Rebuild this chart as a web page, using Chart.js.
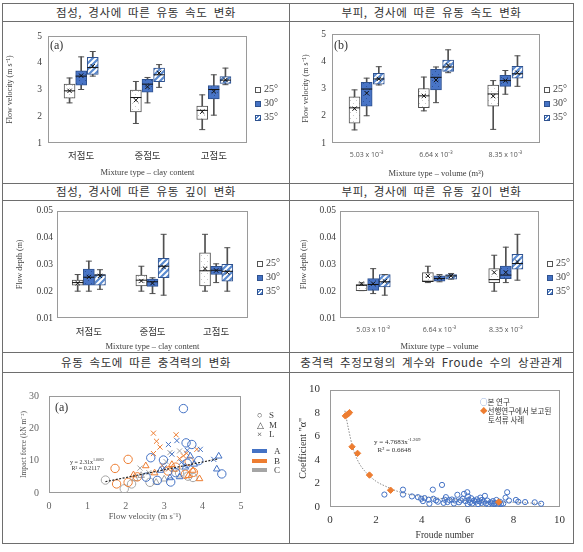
<!DOCTYPE html>
<html>
<head>
<meta charset="utf-8">
<script src="https://cdn.jsdelivr.net/npm/chart.js@4.4.1/dist/chart.umd.min.js"></script>
<style>
body{margin:0;width:583px;height:552px;background:#fff;position:relative;overflow:hidden}
.h,.v{position:absolute;background:#6e6e6e}
.h{height:1px;left:2px;width:572px}
.v{width:1px;top:3px;height:541px}
.t{position:absolute;text-align:center;font-family:'Noto Sans CJK KR',sans-serif;font-size:11.5px;color:#333;letter-spacing:0.6px;word-spacing:3px;white-space:nowrap}
canvas{position:absolute}
.lg{position:absolute;font-family:'Liberation Serif',serif;font-size:10px;color:#404040}
.it{height:14px;line-height:14px;white-space:nowrap}
.sw{display:inline-block;width:6px;height:6px;margin-right:3px;vertical-align:-1px;box-sizing:border-box}
.s25{background:#fff;border:1px solid #555}
.s30{background:#4472c4;border:1px solid #2f528f}
.s35{background:repeating-linear-gradient(-45deg,#5b8bd0 0 1.5px,#fff 1.5px 3px);border:1px solid #2f528f}
.nt{position:absolute;font-family:'Liberation Serif',serif;color:#333;white-space:nowrap}
</style>
</head>
<body>
<div class="h" style="top:3px"></div>
<div class="h" style="top:21px"></div>
<div class="h" style="top:183px"></div>
<div class="h" style="top:200px"></div>
<div class="h" style="top:352px"></div>
<div class="h" style="top:372px"></div>
<div class="h" style="top:543px"></div>
<div class="v" style="left:2px"></div>
<div class="v" style="left:289px"></div>
<div class="v" style="left:573px"></div>

<div class="t" style="left:3px;width:286px;top:3px;height:18px;line-height:18px">점성, 경사에 따른 유동 속도 변화</div>
<div class="t" style="left:290px;width:283px;top:3px;height:18px;line-height:18px">부피, 경사에 따른 유동 속도 변화</div>
<div class="t" style="left:3px;width:286px;top:183px;height:17px;line-height:17px">점성, 경사에 따른 유동 깊이 변화</div>
<div class="t" style="left:290px;width:283px;top:183px;height:17px;line-height:17px">부피, 경사에 따른 유동 깊이 변화</div>
<div class="t" style="left:3px;width:286px;top:352px;height:20px;line-height:20px">유동 속도에 따른 충격력의 변화</div>
<div class="t" style="left:290px;width:283px;top:352px;height:20px;line-height:20px">충격력 추정모형의 계수와 Froude 수의 상관관계</div>

<canvas id="c1" width="285" height="160" style="left:3px;top:22px"></canvas>
<canvas id="c2" width="282" height="160" style="left:290px;top:22px"></canvas>
<canvas id="c3" width="285" height="151" style="left:3px;top:201px"></canvas>
<canvas id="c4" width="282" height="151" style="left:290px;top:201px"></canvas>
<canvas id="c5" width="285" height="169" style="left:3px;top:373px"></canvas>
<canvas id="c6" width="282" height="169" style="left:290px;top:373px"></canvas>

<div class="lg" style="left:255px;top:82px"><div class="it"><span class="sw s25"></span>25°</div><div class="it"><span class="sw s30"></span>30°</div><div class="it"><span class="sw s35"></span>35°</div></div>
<div class="lg" style="left:544px;top:82px"><div class="it"><span class="sw s25"></span>25°</div><div class="it"><span class="sw s30"></span>30°</div><div class="it"><span class="sw s35"></span>35°</div></div>
<div class="lg" style="left:257px;top:256px"><div class="it"><span class="sw s25"></span>25°</div><div class="it"><span class="sw s30"></span>30°</div><div class="it"><span class="sw s35"></span>35°</div></div>
<div class="lg" style="left:547px;top:256px"><div class="it"><span class="sw s25"></span>25°</div><div class="it"><span class="sw s30"></span>30°</div><div class="it"><span class="sw s35"></span>35°</div></div>

<div class="nt" style="left:50px;top:38px;font-size:12px">(a)</div>
<div class="nt" style="left:334px;top:38px;font-size:12px">(b)</div>
<div class="nt" style="left:55px;top:400px;font-size:12px">(a)</div>

<div class="lg" style="left:257px;top:411px;font-size:9px;line-height:9.5px">
<div><span style="display:inline-block;width:12px">○</span>S</div>
<div><span style="display:inline-block;width:12px">△</span>M</div>
<div><span style="display:inline-block;width:12px">×</span>L</div>
</div>
<div class="lg" style="left:252px;top:447px;font-size:9px;line-height:9.5px">
<div><span style="display:inline-block;width:15px;height:4px;background:#4472c4;vertical-align:1px;margin-right:7px"></span>A</div>
<div><span style="display:inline-block;width:15px;height:4px;background:#ed7d31;vertical-align:1px;margin-right:7px"></span>B</div>
<div><span style="display:inline-block;width:15px;height:4px;background:#a5a5a5;vertical-align:1px;margin-right:7px"></span>C</div>
</div>
<div class="nt" style="left:70px;top:457px;font-size:6px;line-height:6px">y = 2.31x<sup style="font-size:4px">1.0062</sup><br>&nbsp;R² = 0.2117</div>

<div class="lg" style="left:480px;top:397px;font-family:'Noto Sans CJK KR',sans-serif;font-size:7.5px;line-height:9px;color:#333">
<div><span style="color:#4472c4">○</span>본 연구</div>
<div><span style="color:#ed7d31">◆</span>선행연구에서 보고된</div>
<div style="padding-left:8px">토석류 사례</div>
</div>
<div class="nt" style="left:374px;top:436px;font-size:7px;line-height:8px">y = 4.7683x<sup style="font-size:5px">-1.269</sup><br>&nbsp;&nbsp;R² = 0.6648</div>

<script>
const serif = "'Liberation Serif','Times New Roman',serif";
const kr = "'Noto Sans CJK KR',sans-serif";

const clayLabels = ['저점도', '중점도', '고점도'];
const volLabels = ['5.03 x 10⁻³', '6.64 x 10⁻³', '8.35 x 10⁻³'];
const slopeLabels = ['25°', '30°', '35°'];

// box values per group: [min, q1, median, q3, max, mean]
const velClay25 = [[2.5, 2.68, 2.95, 3.2, 3.43, 2.95], [1.73, 2.16, 2.7, 2.98, 3.3, 2.6], [1.5, 1.88, 2.22, 2.38, 2.8, 2.17]];
const velClay30 = [[3.0, 3.16, 3.5, 3.7, 4.22, 3.52], [2.5, 2.9, 3.2, 3.38, 3.45, 3.1], [2.04, 2.65, 3.0, 3.15, 3.55, 2.93]];
const velClay35 = [[3.5, 3.56, 3.82, 4.2, 4.42, 3.87], [3.08, 3.29, 3.55, 3.8, 3.93, 3.62], [3.18, 3.23, 3.35, 3.48, 3.8, 3.36]];

const velVol25 = [[1.48, 1.73, 2.29, 2.69, 2.95, 2.26], [2.18, 2.3, 2.73, 3.0, 3.42, 2.73], [1.5, 2.35, 2.8, 3.13, 3.29, 2.72]];
const velVol30 = [[2.0, 2.35, 2.98, 3.23, 3.38, 2.83], [2.48, 2.95, 3.41, 3.7, 3.79, 3.31], [2.79, 3.08, 3.29, 3.48, 3.66, 3.29]];
const velVol35 = [[3.13, 3.16, 3.35, 3.56, 3.8, 3.35], [3.58, 3.63, 3.79, 4.04, 4.42, 3.85], [3.08, 3.38, 3.54, 3.81, 4.2, 3.58]];

const depClay25 = [[0.02, 0.0222, 0.0232, 0.0241, 0.0262, 0.023], [0.02, 0.022, 0.0241, 0.026, 0.0293, 0.0238], [0.02, 0.022, 0.0276, 0.0343, 0.0412, 0.0284]];
const depClay30 = [[0.02, 0.0222, 0.0252, 0.0282, 0.0312, 0.0253], [0.0191, 0.0218, 0.0235, 0.0245, 0.025, 0.023], [0.0232, 0.0262, 0.0278, 0.0293, 0.0302, 0.0277]];
const depClay35 = [[0.0207, 0.0222, 0.026, 0.0262, 0.028, 0.0257], [0.0185, 0.025, 0.0293, 0.0322, 0.0412, 0.029], [0.02, 0.0237, 0.0274, 0.03, 0.0362, 0.027]];

const depVol25 = [[0.0202, 0.0202, 0.0222, 0.0225, 0.0231, 0.0228], [0.0232, 0.0235, 0.0237, 0.0269, 0.0293, 0.0257], [0.02, 0.0232, 0.0243, 0.0284, 0.0334, 0.027]];
const depVol30 = [[0.0191, 0.0203, 0.0225, 0.0247, 0.0284, 0.0228], [0.0235, 0.0237, 0.0247, 0.0257, 0.0262, 0.025], [0.0232, 0.0247, 0.026, 0.0294, 0.0364, 0.027]];
const depVol35 = [[0.0185, 0.0216, 0.0235, 0.0262, 0.0262, 0.0237], [0.0245, 0.0245, 0.0257, 0.0262, 0.0266, 0.0257], [0.0241, 0.0282, 0.0303, 0.0337, 0.0412, 0.0309]];

// impact force vs flow velocity, [velocity, force]
const impAS = [[3.5, 26.1], [3.57, 15.5], [2.98, 10.2], [2.65, 10.9], [2.53, 4.9], [2.82, 3.9], [3.17, 3.4], [4.5, 5.9], [3.72, 15.0], [3.6, 9.2], [3.3, 6.3], [3.9, 10.0]];
const impAM = [[4.42, 11.4], [4.37, 7.4], [3.68, 11.4], [3.78, 8.9], [3.4, 5.0], [3.15, 4.7], [2.9, 7.0], [3.55, 8.0]];
const impAL = [[3.11, 15.0], [3.33, 16.2], [4.29, 10.4], [3.6, 13.2], [3.94, 13.5], [3.2, 12.0], [3.0, 7.8], [3.45, 9.5]];
const impBS = [[2.06, 10.4], [1.72, 7.6], [1.76, 2.8], [2.06, 3.3], [3.76, 6.4], [3.3, 8.0], [3.55, 5.8], [2.3, 5.0], [3.1, 6.8], [3.65, 9.8]];
const impBM = [[2.52, 8.4], [3.63, 5.4], [3.92, 4.4], [2.2, 5.6], [3.2, 8.8], [3.75, 7.0], [2.75, 6.2]];
const impBL = [[2.72, 18.5], [3.31, 18.0], [2.8, 16.0], [2.89, 14.2], [2.72, 12.2], [3.85, 13.5], [3.11, 7.4], [3.5, 11.5], [3.4, 10.6], [2.95, 8.5], [3.58, 12.3]];
const impCS = [[1.47, 4.0], [1.96, 1.3], [2.15, 2.8], [2.63, 3.3], [3.4, 6.2], [3.62, 5.2], [3.75, 4.8]];
const impCM = [[2.24, 4.4], [2.79, 3.3], [2.4, 5.4], [3.25, 7.3], [3.0, 4.3]];
const impCL = [[2.37, 7.7], [3.15, 12.5], [3.4, 13.0], [2.6, 6.3], [3.05, 9.7]];
const impTrend = [[1.47, 3.5], [4.42, 10.6]];

// coefficient vs Froude number
const frThis = [[2.37, 1.06], [3.18, 1.48], [3.18, 1.06], [3.57, 0.9], [3.83, 0.84], [3.97, 0.7], [4.12, 0.76], [4.33, 0.28], [4.48, 1.48], [4.5, 0.7],
  [4.62, 0.56], [4.7, 0.45], [4.88, 1.88], [4.95, 0.35], [5.05, 0.84], [5.12, 0.42], [5.2, 0.6], [5.31, 0.64], [5.4, 0.3], [5.45, 0.55],
  [5.55, 1.04], [5.62, 0.4], [5.7, 0.56], [5.78, 0.7], [5.84, 1.12], [5.9, 0.5], [5.98, 1.26], [6.02, 0.9], [6.05, 0.6], [6.1, 0.4],
  [6.15, 0.75], [6.2, 0.3], [6.28, 0.55], [6.35, 0.45], [6.4, 0.65], [6.45, 0.25], [6.5, 0.5], [6.55, 0.8], [6.6, 0.35], [6.62, 0.6],
  [6.7, 0.45], [6.75, 0.95], [6.8, 0.3], [6.85, 0.55], [6.9, 0.2], [7.0, 0.4], [7.05, 0.3], [7.1, 0.5], [7.15, 0.25], [7.2, 0.35],
  [7.25, 0.6], [7.3, 0.2], [7.35, 0.3], [7.4, 0.45], [7.45, 0.25], [7.55, 0.3], [7.65, 0.8], [7.72, 1.26], [7.8, 0.55], [8.1, 0.6],
  [8.2, 0.45], [8.5, 0.42], [8.92, 0.4], [9.2, 0.28], [4.3, 0.62], [4.05, 0.5], [5.0, 0.62], [6.0, 0.25]];
const frPrior = [[0.67, 7.76], [0.77, 7.9], [0.85, 8.04], [0.96, 5.13], [1.2, 4.57], [1.72, 2.72], [2.64, 1.43], [7.35, 0.42]];
const frCurve = [[0.65, 8.2], [0.8, 6.7], [1.0, 5.0], [1.25, 3.8], [1.5, 3.1], [2.0, 2.2], [2.5, 1.7], [3.0, 1.3], [4.0, 0.9], [5.0, 0.7], [6.0, 0.55], [7.0, 0.45], [8.0, 0.4], [9.2, 0.3]];

Chart.defaults.animation = false;
Chart.defaults.responsive = false;
Chart.defaults.devicePixelRatio = 1;
Chart.defaults.plugins.legend.display = false;
Chart.defaults.plugins.tooltip.enabled = false;

const plotFrame = {
  id: 'plotFrame',
  beforeDatasetsDraw(chart) {
    const { ctx, chartArea: a } = chart;
    ctx.save();
    ctx.strokeStyle = '#9a9a9a';
    ctx.lineWidth = 1;
    ctx.strokeRect(Math.round(a.left) + 0.5, Math.round(a.top) + 0.5, Math.round(a.width) - 1, Math.round(a.height) - 1);
    ctx.restore();
  }
};

function pattern(bg, draw) {
  const c = document.createElement('canvas');
  c.width = c.height = 6;
  const g = c.getContext('2d');
  g.fillStyle = bg;
  g.fillRect(0, 0, 6, 6);
  draw(g);
  return g.createPattern(c, 'repeat');
}
const fill25 = pattern('#ffffff', g => { g.fillStyle = '#c8c8c8'; g.fillRect(0, 0, 1, 1); g.fillRect(3, 3, 1, 1); });
const fill30 = pattern('#4874c6', g => { g.fillStyle = '#2f5597'; g.fillRect(1, 1, 1, 1); g.fillRect(4, 4, 1, 1); });
const fill35 = pattern('#ffffff', g => {
  g.strokeStyle = '#5b8bd0'; g.lineWidth = 2.2;
  g.beginPath(); g.moveTo(-1, 7); g.lineTo(7, -1); g.moveTo(-1, 1); g.lineTo(1, -1); g.moveTo(5, 7); g.lineTo(7, 5); g.stroke();
});
const boxFills = [fill25, fill30, fill35];
const boxLines = ['#505050', '#2f528f', '#2f528f'];
const offs = [-0.175, 0, 0.175];

function boxChart(id, cats, series, o) {
  const datasets = [];
  series.forEach((s, k) => {
    const at = i => i + offs[k];
    datasets.push({ type: 'bar', label: slopeLabels[k] + ' whisker', data: s.map((v, i) => ({ x: at(i), y: [v[0], v[4]] })),
      backgroundColor: '#505050', barThickness: 1, grouped: false, order: 3 });
    datasets.push({ type: 'bar', label: slopeLabels[k], data: s.map((v, i) => ({ x: at(i), y: [v[1], v[3]] })),
      backgroundColor: boxFills[k], borderColor: boxLines[k], borderWidth: 1, borderSkipped: false, barThickness: 11, grouped: false, order: 2 });
    datasets.push({ type: 'scatter', label: slopeLabels[k] + ' caps', data: s.flatMap((v, i) => [{ x: at(i), y: v[0] }, { x: at(i), y: v[4] }]),
      pointStyle: 'line', radius: 3, borderColor: '#505050', borderWidth: 1, order: 1 });
    datasets.push({ type: 'scatter', label: slopeLabels[k] + ' median', data: s.map((v, i) => ({ x: at(i), y: v[2] })),
      pointStyle: 'line', radius: 5.5, borderColor: '#111', borderWidth: 1, order: 1 });
    datasets.push({ type: 'scatter', label: slopeLabels[k] + ' mean', data: s.map((v, i) => ({ x: at(i), y: v[5] })),
      pointStyle: 'crossRot', radius: 3, borderColor: '#111', borderWidth: 1, order: 1 });
  });
  return new Chart(document.getElementById(id), {
    type: 'bar',
    data: { datasets },
    options: {
      layout: { padding: { left: 0, right: o.right, top: o.top, bottom: 0 } },
      scales: {
        x: {
          type: 'linear', min: -0.5, max: 2.5, offset: false,
          afterBuildTicks: ax => { ax.ticks = cats.map((c, i) => ({ value: i })); },
          afterFit: ax => { ax.height = o.xh; },
          ticks: { callback: v => cats[v], color: o.catColor, font: o.catFont, padding: o.catPad, maxRotation: 0, autoSkip: false },
          grid: { display: false, drawTicks: false }, border: { display: false },
          title: { display: true, text: o.xTitle, color: '#404040', font: { family: serif, size: 8.5 }, padding: { top: 0, bottom: o.xtPad } }
        },
        y: {
          min: o.yMin, max: o.yMax,
          afterBuildTicks: ax => { ax.ticks = o.yTicks.map(v => ({ value: v })); },
          afterFit: ax => { ax.width = o.yw; },
          ticks: { callback: v => o.yFmt(v), color: '#404040', font: { family: serif, size: 9.5 }, padding: o.ytickPad },
          grid: { display: false, drawTicks: false }, border: { display: false },
          title: { display: true, text: o.yTitle, color: '#404040', font: { family: serif, size: 8 }, padding: { top: o.ytPad, bottom: 0 } }
        }
      }
    },
    plugins: [plotFrame]
  });
}

const velTicks = [1, 2, 3, 4, 5];
const depTicks = [0.01, 0.02, 0.03, 0.04, 0.05];
const krCat = { family: kr, size: 9.5 };
const volCat = { family: "'Open Sans',sans-serif", size: 7 };

boxChart('c1', clayLabels, [velClay25, velClay30, velClay35], {
  right: 41, top: 14, xh: 39, yw: 45, yMin: 1, yMax: 5, yTicks: velTicks, yFmt: v => String(v),
  catColor: '#333', catFont: krCat, catPad: 7, xTitle: 'Mixture type – clay content', xtPad: 4.5,
  yTitle: 'Flow velocity (m s⁻¹)', ytPad: 2, ytickPad: 6
});
boxChart('c2', volLabels, [velVol25, velVol30, velVol35], {
  right: 32, top: 12, xh: 39, yw: 42, yMin: 1, yMax: 5, yTicks: velTicks, yFmt: v => String(v),
  catColor: '#555', catFont: volCat, catPad: 8, xTitle: 'Mixture type – volume (m³)', xtPad: 3.5,
  yTitle: 'Flow velocity (m s⁻¹)', ytPad: 11, ytickPad: 6
});
boxChart('c3', clayLabels, [depClay25, depClay30, depClay35], {
  right: 40, top: 9, xh: 34, yw: 54, yMin: 0.01, yMax: 0.05, yTicks: depTicks, yFmt: v => v.toFixed(2),
  catColor: '#333', catFont: krCat, catPad: 8, xTitle: 'Mixture type – clay content', xtPad: 0,
  yTitle: 'Flow depth (m)', ytPad: 12, ytickPad: 4
});
boxChart('c4', volLabels, [depVol25, depVol30, depVol35], {
  right: 33, top: 9, xh: 34, yw: 50, yMin: 0.01, yMax: 0.05, yTicks: depTicks, yFmt: v => v.toFixed(2),
  catColor: '#555', catFont: volCat, catPad: 8, xTitle: 'Mixture type – volume', xtPad: 0,
  yTitle: 'Flow depth (m)', ytPad: 9, ytickPad: 4
});

const grpColors = { A: '#4472c4', B: '#ed7d31', C: '#a5a5a5' };
function pts(arr) { return arr.map(p => ({ x: p[0], y: p[1] })); }
function impSet(label, arr, color, style, r) {
  return { label, data: pts(arr), pointStyle: style, radius: r, borderColor: color, backgroundColor: 'rgba(0,0,0,0)', borderWidth: 1 };
}

new Chart(document.getElementById('c5'), {
  type: 'scatter',
  data: {
    datasets: [
      { type: 'line', label: 'trend', data: pts(impTrend), borderColor: '#222', borderWidth: 1.2, borderDash: [2, 1.5], pointRadius: 0, order: 0 },
      impSet('A S', impAS, grpColors.A, 'circle', 4.2),
      impSet('A M', impAM, grpColors.A, 'triangle', 3.8),
      impSet('A L', impAL, grpColors.A, 'crossRot', 3.6),
      impSet('B S', impBS, grpColors.B, 'circle', 4.2),
      impSet('B M', impBM, grpColors.B, 'triangle', 3.8),
      impSet('B L', impBL, grpColors.B, 'crossRot', 3.6),
      impSet('C S', impCS, grpColors.C, 'circle', 4.2),
      impSet('C M', impCM, grpColors.C, 'triangle', 3.8),
      impSet('C L', impCL, grpColors.C, 'crossRot', 3.6)
    ]
  },
  options: {
    layout: { padding: { left: 0, right: 47, top: 23, bottom: 20 } },
    scales: {
      x: {
        type: 'linear', min: 0, max: 5,
        afterFit: ax => { ax.height = 29; },
        ticks: { stepSize: 1, color: '#666', font: { family: serif, size: 10 }, padding: 7 },
        grid: { display: false, drawTicks: false }, border: { display: false },
        title: { display: true, text: 'Flow velocity (m s⁻¹)', color: '#555', font: { family: serif, size: 8.5 }, padding: { top: 0, bottom: 0 } }
      },
      y: {
        min: 0, max: 30,
        afterFit: ax => { ax.width = 46; },
        ticks: { stepSize: 10, color: '#666', font: { family: serif, size: 10 }, padding: 10 },
        grid: { display: false, drawTicks: false }, border: { display: false },
        title: { display: true, text: 'Impact force (kN m⁻²)', color: '#555', font: { family: serif, size: 7.5 }, padding: { top: 17, bottom: 0 } }
      }
    }
  },
  plugins: [plotFrame]
});

new Chart(document.getElementById('c6'), {
  type: 'scatter',
  data: {
    datasets: [
      { type: 'line', label: 'fit', data: pts(frCurve), borderColor: '#8a8a8a', borderWidth: 1, borderDash: [1.5, 1.5], pointRadius: 0, cubicInterpolationMode: 'monotone', order: 2 },
      { label: '본 연구', data: pts(frThis), pointStyle: 'circle', radius: 2.6, borderColor: '#4472c4', backgroundColor: 'rgba(0,0,0,0)', borderWidth: 1, order: 1 },
      { label: '선행연구에서 보고된 토석류 사례', data: pts(frPrior), pointStyle: 'rectRot', radius: 3.2, borderColor: '#ed7d31', backgroundColor: '#ed7d31', borderWidth: 1, order: 0 }
    ]
  },
  options: {
    layout: { padding: { left: 0, right: 9, top: 15, bottom: 0 } },
    scales: {
      x: {
        type: 'linear', min: 0, max: 10,
        afterFit: ax => { ax.height = 35; },
        ticks: { stepSize: 2, color: '#333', font: { family: serif, size: 11 }, padding: 7 },
        grid: { display: false, drawTicks: false }, border: { display: false },
        title: { display: true, text: 'Froude number', color: '#333', font: { family: serif, size: 9.5 }, padding: { top: 0, bottom: 1 } }
      },
      y: {
        min: 0, max: 10,
        afterFit: ax => { ax.width = 40; },
        ticks: { stepSize: 2, color: '#333', font: { family: serif, size: 11 }, padding: 10 },
        grid: { display: false, drawTicks: false }, border: { display: false },
        title: { display: true, text: 'Coefficient "α"', color: '#333', font: { family: serif, size: 10 }, padding: { top: 7, bottom: 0 } }
      }
    }
  },
  plugins: [plotFrame]
});
</script>
</body>
</html>
